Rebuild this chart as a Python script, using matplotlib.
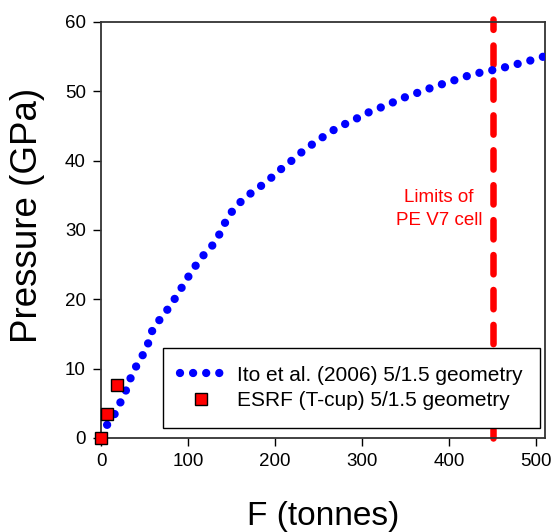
import matplotlib
matplotlib.use("Agg")
import matplotlib.pyplot as plt

plt.rcParams['font.family'] = ['Liberation Sans', 'DejaVu Sans']

# Ito et al. (2006) calibration curve, F in tonnes, P in GPa
ito_f = [7, 17, 24, 31, 36, 45, 53, 57, 67, 78, 88, 97, 106, 118, 131, 139, 146,
         159, 174, 190, 204, 220, 234, 249, 264, 279, 294, 308, 324, 339, 354,
         369, 383, 399, 413, 428, 444, 459, 474, 489, 504, 512]
ito_p = [1.9, 3.7, 5.6, 7.5, 9.4, 11.3, 13.1, 15.1, 17.0, 18.8, 20.7, 22.6, 24.4,
         26.4, 28.2, 30.1, 32.0, 33.9, 35.5, 36.9, 38.5, 40.1, 41.6, 42.9, 44.2,
         45.2, 46.1, 47.0, 47.8, 48.6, 49.4, 50.0, 50.7, 51.3, 51.9, 52.5, 52.9,
         53.3, 53.8, 54.3, 54.8, 55.2]

# ESRF T-cup points
esrf_f = [0, 6.5, 18]
esrf_p = [0, 3.5, 7.6]

limit_f = 450
xticks = [0, 100, 200, 300, 400, 500]
yticks = [0, 10, 20, 30, 40, 50, 60]

fig = plt.figure(figsize=(5.55, 5.32), dpi=100)
ax = fig.add_axes([0.182, 0.1767, 0.8, 0.782])

ax.plot(ito_f, ito_p, color='blue', lw=6.0, linestyle=(0, (0.001, 1.57)),
        dash_capstyle='round', label='Ito et al. (2006) 5/1.5 geometry', zorder=3)
ax.plot([limit_f, limit_f], [0, 60.4], color='red', lw=4.7,
        linestyle=(1.6, (2.95, 2.4)), dash_capstyle='round', clip_on=False, zorder=2)
ax.plot(esrf_f, esrf_p, linestyle='none', marker='s', markersize=8.6,
        markerfacecolor='red', markeredgecolor='black', markeredgewidth=1.0,
        clip_on=False, label='ESRF (T-cup) 5/1.5 geometry', zorder=4)

ax.text(388, 33.0, 'Limits of\nPE V7 cell', color='red', fontsize=13.5,
        ha='center', va='center', linespacing=1.45)

ax.set_xlim(0, 510)
ax.set_ylim(0, 60)
ax.set_xticks(xticks)
ax.set_yticks(yticks)
ax.tick_params(direction='out', length=6, width=1, labelsize=13.5, pad=5, colors='black')
for s in ax.spines.values():
    s.set_linewidth(1.3)
    s.set_color('#333333')

ax.set_xlabel('F (tonnes)', fontsize=24)
ax.xaxis.set_label_coords(0.5, -0.152)
ax.set_ylabel('Pressure (GPa)', fontsize=26.5)
ax.yaxis.set_label_coords(-0.127, 0.536)

leg = ax.legend(loc='lower left', bbox_to_anchor=(0.139, 0.024), borderaxespad=0,
                fontsize=15, handlelength=2.0, handletextpad=0.7, numpoints=1,
                fancybox=False, framealpha=1, edgecolor='black', borderpad=0.85,
                labelspacing=0.32)
leg.get_frame().set_linewidth(1.0)

fig.savefig('out.png', dpi=100)
